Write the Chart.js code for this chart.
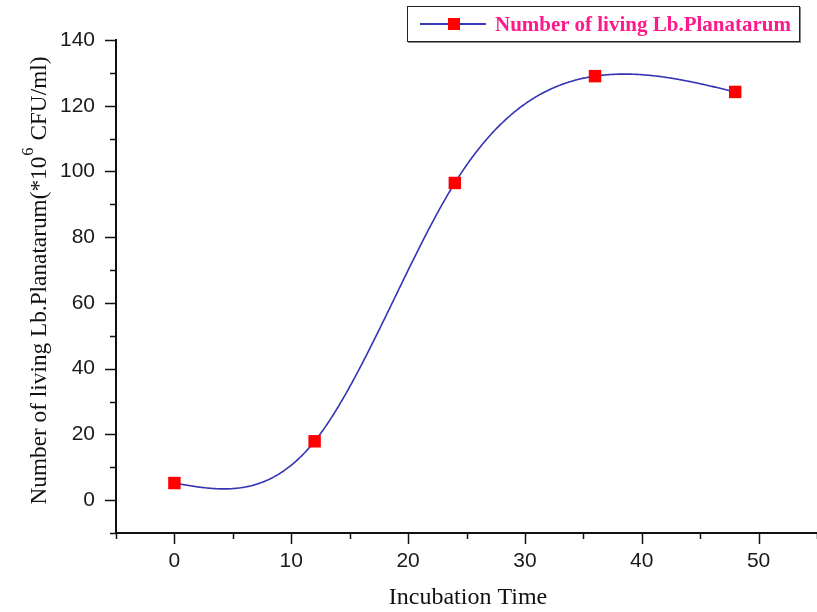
<!DOCTYPE html>
<html>
<head>
<meta charset="utf-8">
<script src="https://cdn.jsdelivr.net/npm/chart.js@4.4.1/dist/chart.umd.min.js"></script>
<style>
  html, body { margin: 0; padding: 0; background: #fff; }
  #wrap { position: relative; width: 817px; height: 612px; }
  #legend {
    position: absolute; left: 407px; top: 6px; width: 391px; height: 34px;
    border: 1.5px solid #222; box-shadow: 1px 1px 0 #888; background: #fff;
    font: bold 21px "Liberation Serif", "Times New Roman", serif; color: #ff1a8c;
    display: flex; align-items: center; white-space: nowrap;
  }
  #legend .sample { position: relative; width: 66px; height: 12px; margin-left: 12px; margin-right: 9px; }
  #legend .sample .ln { position: absolute; left: 0; right: 0; top: 5px; height: 1.5px; background: #3a3ab8; }
  #legend .sample .mk { position: absolute; left: 28px; top: 0; width: 12px; height: 12px; background: #ff0000; }
</style>
</head>
<body>
<div id="wrap">
  <canvas id="chart" width="817" height="612"></canvas>
  <div id="legend"><div class="sample"><div class="ln"></div><div class="mk"></div></div><span>Number of living Lb.Planatarum</span></div>
</div>
<script>
const incubationTime = [0, 12, 24, 36, 48];
const livingCount = [5.2, 17.9, 96.5, 129, 124.2];
const xLabels = [0, 10, 20, 30, 40, 50];
const yLabels = [0, 20, 40, 60, 80, 100, 120, 140];

const tickFont = { family: "Liberation Sans, Arial, sans-serif", size: 21 };
const titleFont = "24px 'Liberation Serif', 'Times New Roman', serif";
const supFont = "17px 'Liberation Serif', 'Times New Roman', serif";

// natural cubic spline second derivatives (Origin "spline" connector)
function splineM(xs, ys) {
  const n = xs.length, m = new Array(n).fill(0);
  const a = [], b = [], c = [], d = [];
  for (let i = 1; i < n - 1; i++) {
    const h0 = xs[i] - xs[i - 1], h1 = xs[i + 1] - xs[i];
    a.push(h0); b.push(2 * (h0 + h1)); c.push(h1);
    d.push(6 * ((ys[i + 1] - ys[i]) / h1 - (ys[i] - ys[i - 1]) / h0));
  }
  for (let i = 1; i < b.length; i++) {
    const w = a[i] / b[i - 1];
    b[i] -= w * c[i - 1]; d[i] -= w * d[i - 1];
  }
  for (let i = b.length - 1; i >= 0; i--) {
    m[i + 1] = (d[i] - (i < b.length - 1 ? c[i] * m[i + 2] : 0)) / b[i];
  }
  return m;
}

const splineLine = {
  id: "splineLine",
  beforeDatasetsDraw(chart) {
    const ctx = chart.ctx, xs = chart.scales.x, ys = chart.scales.y, area = chart.chartArea;
    const m = splineM(incubationTime, livingCount);
    ctx.save();
    ctx.beginPath();
    ctx.rect(area.left, area.top, area.right - area.left, area.bottom - area.top);
    ctx.clip();
    ctx.strokeStyle = "#3434b4";
    ctx.lineWidth = 1.6;
    ctx.beginPath();
    for (let i = 0; i < incubationTime.length - 1; i++) {
      const x0 = incubationTime[i], x1 = incubationTime[i + 1], h = x1 - x0;
      const y0 = livingCount[i], y1 = livingCount[i + 1];
      const p0 = xs.getPixelForValue(x0), p1 = xs.getPixelForValue(x1);
      for (let px = p0; px <= p1 + 0.01; px += 1) {
        const t = xs.getValueForPixel(Math.min(px, p1));
        const A = (x1 - t) / h, B = (t - x0) / h;
        const v = A * y0 + B * y1 + ((A * A * A - A) * m[i] + (B * B * B - B) * m[i + 1]) * h * h / 6;
        const py = ys.getPixelForValue(v);
        if (px === p0 && i === 0) ctx.moveTo(px, py); else ctx.lineTo(Math.min(px, p1), py);
      }
    }
    ctx.stroke();
    ctx.restore();
  }
};

// Origin-style ticks: long major, short minor, pointing outward
const tickMarks = {
  id: "tickMarks",
  afterDraw(chart) {
    const ctx = chart.ctx;
    const x = chart.scales.x, y = chart.scales.y;
    ctx.save();
    ctx.strokeStyle = "#111";
    ctx.lineWidth = 1.5;
    ctx.beginPath();
    y.ticks.forEach(t => {
      const py = Math.round(y.getPixelForValue(t.value)) + 0.5;
      const len = yLabels.includes(t.value) ? 11 : 6;
      ctx.moveTo(y.right - len, py);
      ctx.lineTo(y.right, py);
    });
    x.ticks.forEach(t => {
      const px = Math.round(x.getPixelForValue(t.value)) + 0.5;
      const len = xLabels.includes(t.value) ? 11 : 6;
      ctx.moveTo(px, x.top);
      ctx.lineTo(px, x.top + len);
    });
    ctx.stroke();
    ctx.restore();
  }
};

// axis titles, with a real superscript on the y title
const axisTitles = {
  id: "axisTitles",
  afterDraw(chart) {
    const ctx = chart.ctx;
    ctx.save();
    ctx.fillStyle = "#111";
    ctx.font = titleFont;
    ctx.textAlign = "center";
    ctx.textBaseline = "middle";
    ctx.fillText("Incubation Time", 468, 598);

    const a = "Number of living Lb.Planatarum(*10";
    const sup = "6";
    const b = " CFU/ml)";
    const wa = ctx.measureText(a).width;
    const wb = ctx.measureText(b).width;
    ctx.font = supFont;
    const ws = ctx.measureText(sup).width + 1;
    const total = wa + ws + wb;
    ctx.translate(40, 281);
    ctx.rotate(-Math.PI / 2);
    ctx.scale(447 / total, 1);
    ctx.textAlign = "left";
    let cx = -total / 2;
    ctx.font = titleFont;
    ctx.fillText(a, cx, 0);
    cx += wa + 1;
    ctx.font = supFont;
    ctx.fillText(sup, cx, -11);
    cx += ws;
    ctx.font = titleFont;
    ctx.fillText(b, cx, 0);
    ctx.restore();
  }
};

new Chart(document.getElementById("chart"), {
  type: "line",
  data: {
    datasets: [{
      label: "Number of living Lb.Planatarum",
      data: incubationTime.map((t, i) => ({ x: t, y: livingCount[i] })),
      showLine: false,
      pointStyle: "rect",
      pointRadius: 8.8,
      pointBackgroundColor: "#ff0000",
      pointBorderColor: "#ff0000",
      pointBorderWidth: 0
    }]
  },
  plugins: [splineLine, tickMarks, axisTitles],
  options: {
    responsive: false,
    animation: false,
    layout: { autoPadding: false, padding: { top: 40, right: 0, left: 0, bottom: 0 } },
    plugins: { legend: { display: false }, tooltip: { enabled: false } },
    scales: {
      x: {
        type: "linear",
        min: -5, max: 55,
        afterFit: s => { s.height = 79; s.paddingLeft = 0; s.paddingRight = 0; },
        grid: { display: false, drawTicks: false },
        border: { display: true, color: "#111", width: 2 },
        ticks: {
          stepSize: 5,
          padding: 16,
          color: "#1a1a1a",
          font: tickFont,
          maxRotation: 0,
          callback: v => xLabels.includes(v) ? String(v) : ""
        }
      },
      y: {
        min: -10, max: 140,
        afterFit: s => { s.width = 116; },
        grid: { display: false, drawTicks: false },
        border: { display: true, color: "#111", width: 2 },
        ticks: {
          stepSize: 10,
          padding: 21,
          color: "#1a1a1a",
          font: tickFont,
          callback: v => yLabels.includes(v) ? String(v) : ""
        }
      }
    }
  }
});
</script>
</body>
</html>
